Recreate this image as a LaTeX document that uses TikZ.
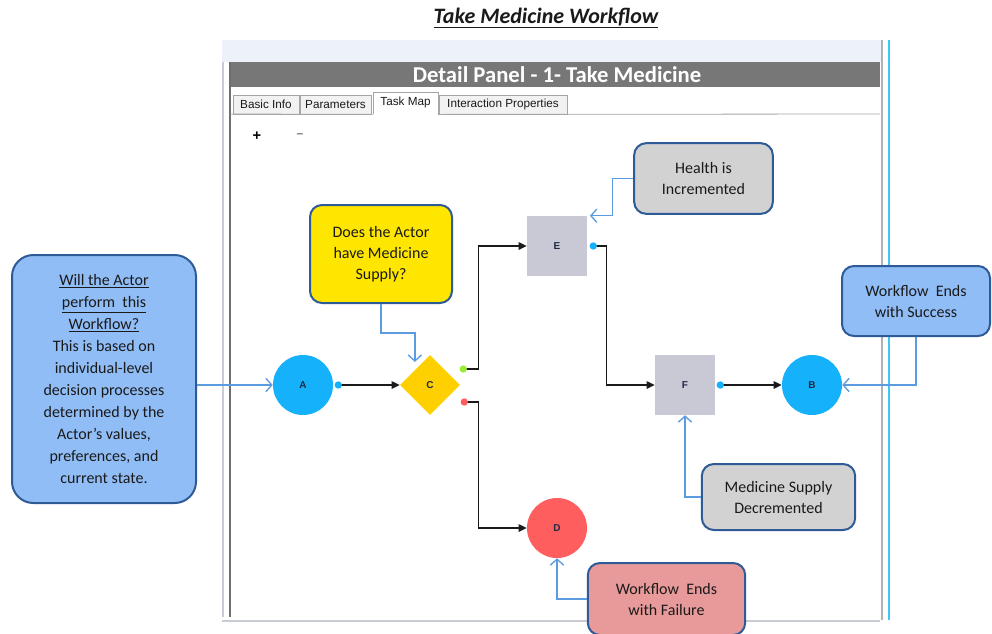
\documentclass[tikz,border=0pt]{standalone}
\usepackage{fontspec}
\setmainfont{Carlito}
\newfontfamily\uifont{Liberation Sans}
\usepackage{xcolor}
\usepackage{tikz}
\usetikzlibrary{calc,arrows.meta,shapes.geometric}
\definecolor{ink}{HTML}{1A1A1A}
\definecolor{lbl}{HTML}{1F2A44}
\definecolor{skyblue}{HTML}{15B2FB}
\definecolor{gold}{HTML}{FFD000}
\definecolor{taskgray}{HTML}{C9C9D6}
\definecolor{failred}{HTML}{FF5E5E}
\definecolor{okgreen}{HTML}{99EE33}
\definecolor{notebd}{HTML}{2E5A96}
\definecolor{noteline}{HTML}{5B9BDF}
\definecolor{noteblue}{HTML}{90BDF6}
\definecolor{noteyel}{HTML}{FFE600}
\definecolor{notegray}{HTML}{D2D2D2}
\definecolor{notepink}{HTML}{E89A9A}
\definecolor{headbg}{HTML}{777777}
\definecolor{stripbg}{HTML}{EDF2FA}
\definecolor{tabbd}{HTML}{A5A5A5}
\definecolor{tabbg}{HTML}{F2F2F2}
\definecolor{frame}{HTML}{6E6E6E}
\definecolor{framelt}{HTML}{C8CCD5}
\definecolor{edgecyan}{HTML}{3CC8F5}
\tikzset{
  flow/.style={draw=ink, line width=1.1pt, -{Triangle[length=6pt,width=5.5pt]}},
  note/.style={draw=noteline, line width=1pt, -{Straight Barb[length=4.5pt,width=10pt]}},
  endpt/.style={circle, fill=skyblue, minimum size=45pt, inner sep=0pt, font=\uifont\bfseries\fontsize{7.5}{9}\selectfont, text=lbl},
  failpt/.style={endpt, fill=failred},
  task/.style={rectangle, fill=taskgray, minimum size=45pt, inner sep=0pt, font=\uifont\bfseries\fontsize{7.5}{9}\selectfont, text=lbl},
  gate/.style={diamond, fill=gold, minimum width=45pt, minimum height=45pt, inner sep=0pt, font=\uifont\bfseries\fontsize{7.5}{9}\selectfont, text=lbl},
  port/.style={circle, fill=skyblue, minimum size=5.5pt, inner sep=0pt},
  callout/.style={draw=notebd, line width=1.5pt, rounded corners=9pt, align=center, inner sep=2pt,
    font=\fontsize{12}{15.75}\selectfont, text=ink},
  tabbox/.style={draw=tabbd, fill=tabbg, line width=0.6pt, minimum height=14.25pt, inner sep=1pt,
    font=\uifont\fontsize{8.8}{10}\selectfont, text=ink},
}
\begin{document}
\begin{tikzpicture}[x=0.75pt,y=-0.75pt]
  \useasboundingbox (0,0) rectangle (992,633);
  % title
  \node[font=\fontsize{16.5}{20}\selectfont\bfseries\itshape, text=ink] (ttl) at (546,18) {\underline{Take Medicine Workflow}};
  % panel frame
  \fill[stripbg] (222,40) rectangle (882,62);
  \fill[headbg] (230,62) rectangle (880,87);
  \node[font=\fontsize{17}{20}\selectfont\bfseries, text=white] (hdr) at (557,74.5) {Detail Panel - 1- Take Medicine};
  \draw[framelt, line width=1.2pt] (223,62) -- (223,617);
  \draw[frame, line width=1.5pt] (230,62) -- (230,617);
  \draw[framelt, line width=1.5pt] (222,621) -- (880,621);
  \draw[black!30, line width=2.2pt] (882,40) -- (882,620);
  \draw[edgecyan, line width=1.2pt] (889,40) -- (889,620);
  % tabs
  \node[tabbox, minimum width=49.5pt] (tInfo) at (266,104.5) {Basic Info};
  \node[tabbox, minimum width=53.25pt] (tPar) at (335.5,104.5) {Parameters};
  \node[tabbox, fill=white, minimum width=48.75pt, minimum height=16.5pt] (tMap) at (405.5,103) {\raisebox{2pt}{Task Map}};
  \node[tabbox, minimum width=96pt] (tInt) at (503,104.5) {Interaction Properties};
  \draw[tabbd, line width=0.6pt] (230,114) -- (tMap.south west);
  \draw[tabbd, line width=0.6pt] (tMap.south east) -- (880,114);
  \fill[white] ([xshift=0.4pt]tMap.south west) rectangle ([xshift=-0.4pt,yshift=-1pt]tMap.south east);
  \node[font=\uifont\bfseries\fontsize{11}{12}\selectfont, text=black] (zin) at (257,136) {+};
  \node[font=\uifont\bfseries\fontsize{9}{10}\selectfont, text=black!55] (zout) at (300,136) {–};

  % task map
  \node[endpt] (A) at (303,385) {A};
  \node[gate] (C) at (430,385) {C};
  \node[task] (E) at (557,246) {E};
  \node[task] (F) at (685,385) {F};
  \node[endpt] (B) at (812,385) {B};
  \node[failpt] (D) at (557,528) {D};
  \coordinate (aOut) at ($(A.east)+(5,0)$);
  \coordinate (cYes) at ($(C.east)+(3,-16)$);
  \coordinate (cNo) at ($(C.east)+(4,17)$);
  \coordinate (eOut) at ($(E.east)+(6,0)$);
  \coordinate (fOut) at ($(F.east)+(5,0)$);
  \draw[flow] (aOut) -- (C.west);
  \draw[flow] (cYes) -- ++(15,0) |- (E.west);
  \draw[flow] (cNo) -- ++(14,0) |- (D.west);
  \draw[flow] (eOut) -- ++(13,0) |- (F.west);
  \draw[flow] (fOut) -- (B.west);
  \node[port] at (aOut) {};
  \node[port, fill=okgreen] at (cYes) {};
  \node[port, fill=failred] at (cNo) {};
  \node[port] at (eOut) {};
  \node[port] at (fOut) {};

  % callouts
  \node[callout, fill=noteblue, rounded corners=16pt, minimum width=138pt, minimum height=186pt,
    font=\fontsize{12}{16.5}\selectfont] (why) at (104,379)
    {\underline{Will the Actor}\\\underline{perform\ \ this}\\\underline{Workflow?}\\This is based on\\individual-level\\decision processes\\determined by the\\Actor's values,\\preferences, and\\current state.};
  \node[callout, fill=noteyel, minimum width=106.5pt, minimum height=73.5pt] (ask) at (381,254)
    {Does the Actor\\have Medicine\\Supply?};
  \node[callout, fill=notegray, minimum width=104pt, minimum height=53pt] (hp) at (703.5,178.5)
    {Health is\\Incremented};
  \node[callout, fill=noteblue, minimum width=111pt, minimum height=52.5pt] (win) at (916,301)
    {Workflow\ \ Ends\\with Success};
  \node[callout, fill=notegray, minimum width=115pt, minimum height=49.5pt] (med) at (778.5,497)
    {Medicine Supply\\Decremented};
  \node[callout, fill=notepink, minimum width=118pt, minimum height=54pt] (lose) at (666.5,599)
    {Workflow\ \ Ends\\with Failure};
  \draw[note] (A.west -| why.east) -- (A.west);
  \draw[note] (ask.south) -- ++(0,29) -| ([yshift=6pt]C.north west);
  \draw[note] (hp.west) -- ++(-21,0) |- ([xshift=2pt]E.north east);
  \draw[note] (win.south) |- (B.east);
  \draw[note] (med.west) -| (F.south);
  \draw[note] (lose.west) -| (D.south);
\end{tikzpicture}
\end{document}
